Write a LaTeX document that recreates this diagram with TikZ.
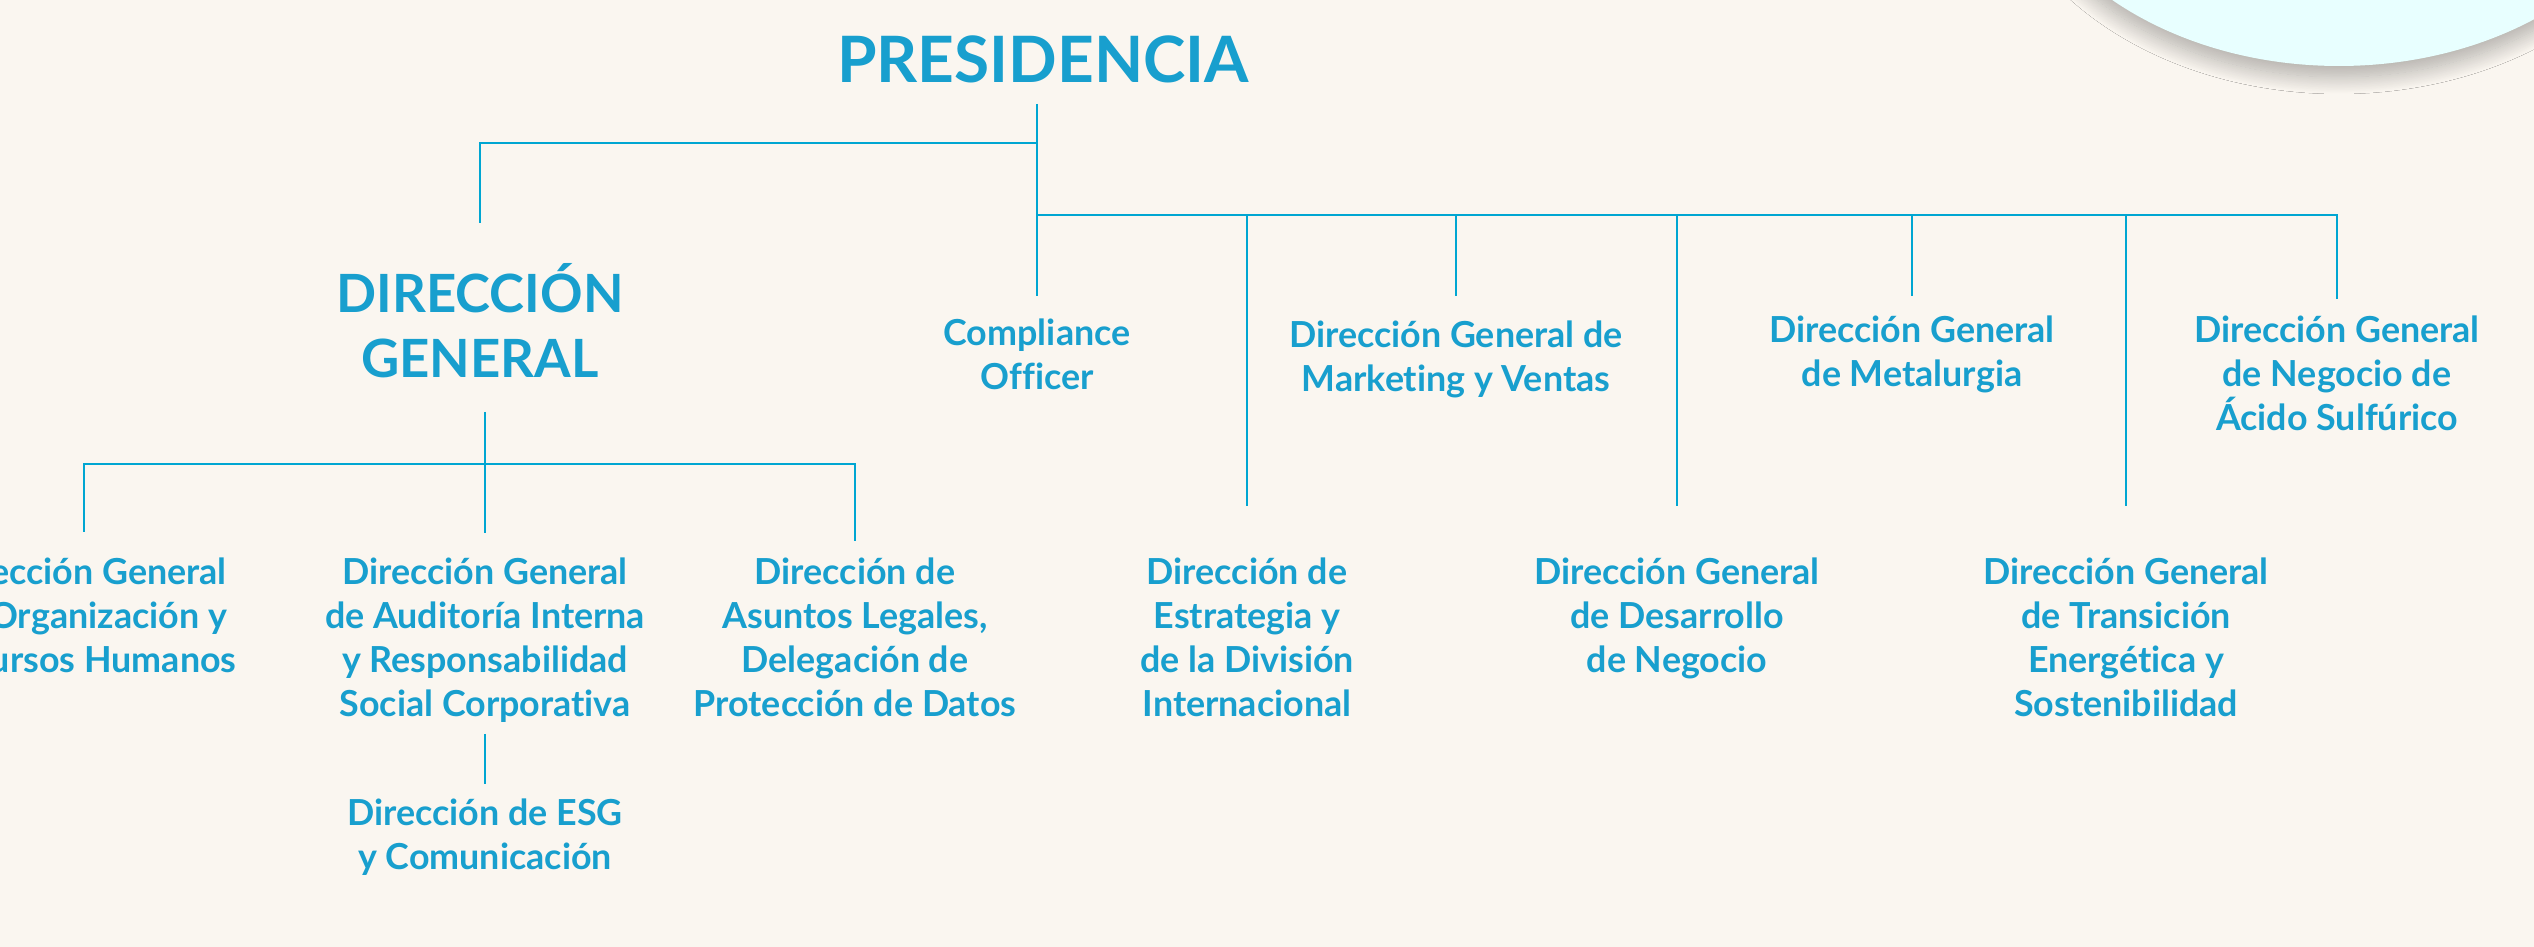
\documentclass[tikz,border=0pt]{standalone}
\usepackage{fontspec}
\setmainfont{Lato}[Ligatures=NoCommon]
\usetikzlibrary{positioning, shadows.blur}
\definecolor{paper}{RGB}{250,246,240}
\definecolor{ink}{RGB}{24,159,206}
\definecolor{wire}{RGB}{0,166,210}
\definecolor{bubble}{RGB}{232,255,255}
\tikzstyle{unit}=[text=ink, font=\bfseries\fontsize{10.2}{12.5}\selectfont, align=center, anchor=north, inner sep=0pt]
\tikzstyle{head}=[unit, font=\bfseries\fontsize{15}{18.4}\selectfont]
\tikzstyle{top}=[unit, font=\bfseries\fontsize{18.2}{22}\selectfont]
\tikzstyle{link}=[draw=wire, line width=0.8pt]

\begin{document}
\begin{tikzpicture}[x=0.1mm, y=-0.1mm]
    \clip (0,0) rectangle (2534,947);
    \fill[paper] (0,0) rectangle (2534,947);
    \fill[bubble, blur shadow={shadow xshift=0mm, shadow yshift=-1.1mm, shadow blur radius=1.7mm, shadow blur steps=30, shadow opacity=30}]
        (2339,-184) ellipse [x radius=335, y radius=250];

    % presidencia and its direct reports
    \node[top] (pres) at (1043,35) {PRESIDENCIA};
    \node[head] (dg) at (480,263) {DIRECCIÓN\\GENERAL};
    \node[unit] (comp) at (1037,318) {Compliance\\Officer};
    \node[unit] (mkt) at (1456,320) {Dirección General de\\Marketing y Ventas};
    \node[unit] (metal) at (1912,315) {Dirección General\\de Metalurgia};
    \node[unit] (acido) at (2337,315) {Dirección General\\de Negocio de\\Ácido Sulfúrico};
    \node[unit] (estr) at (1247,557) {Dirección de\\Estrategia y\\de la División\\Internacional};
    \node[unit] (desa) at (1677,557) {Dirección General\\de Desarrollo\\de Negocio};
    \node[unit] (trans) at (2126,557) {Dirección General\\de Transición\\Energética y\\Sostenibilidad};

    % direccion general and its reports
    \node[unit] (rrhh) at (84,557) {Dirección General\\de Organización y\\Recursos Humanos};
    \node[unit] (audit) at (485,557) {Dirección General\\de Auditoría Interna\\y Responsabilidad\\Social Corporativa};
    \node[unit] (legal) at (855,557) {Dirección de\\Asuntos Legales,\\Delegación de\\Protección de Datos};
    \node[unit] (esg) at (485,798) {Dirección de ESG\\y Comunicación};

    \coordinate (presStem) at (1037,104);
    \coordinate (presFork) at (1037,143);
    \coordinate (presBus) at (1037,215);
    \coordinate (dgStem) at (485,412);
    \coordinate (dgBus) at (485,464);

    \draw[link] (presStem) -- ([yshift=2.2mm]comp.north);
    \draw[link] (presFork) -| ([yshift=4mm]dg.north);
    \draw[link] (presBus) -| ([yshift=1.6mm]acido.north);
    \draw[link] (estr.north |- presBus) -- ([yshift=5.1mm]estr.north);
    \draw[link] (mkt.north |- presBus) -- ([yshift=2.4mm]mkt.north);
    \draw[link] (desa.north |- presBus) -- ([yshift=5.1mm]desa.north);
    \draw[link] (metal.north |- presBus) -- ([yshift=1.9mm]metal.north);
    \draw[link] (trans.north |- presBus) -- ([yshift=5.1mm]trans.north);

    \draw[link] (dgStem) -- ([yshift=2.4mm]audit.north);
    \draw[link] ([yshift=2.5mm]rrhh.north) |- (dgBus) -| ([yshift=1.6mm]legal.north);
    \draw[link] ([yshift=-1.1mm]audit.south) -- ([yshift=1.4mm]esg.north);
\end{tikzpicture}
\end{document}
